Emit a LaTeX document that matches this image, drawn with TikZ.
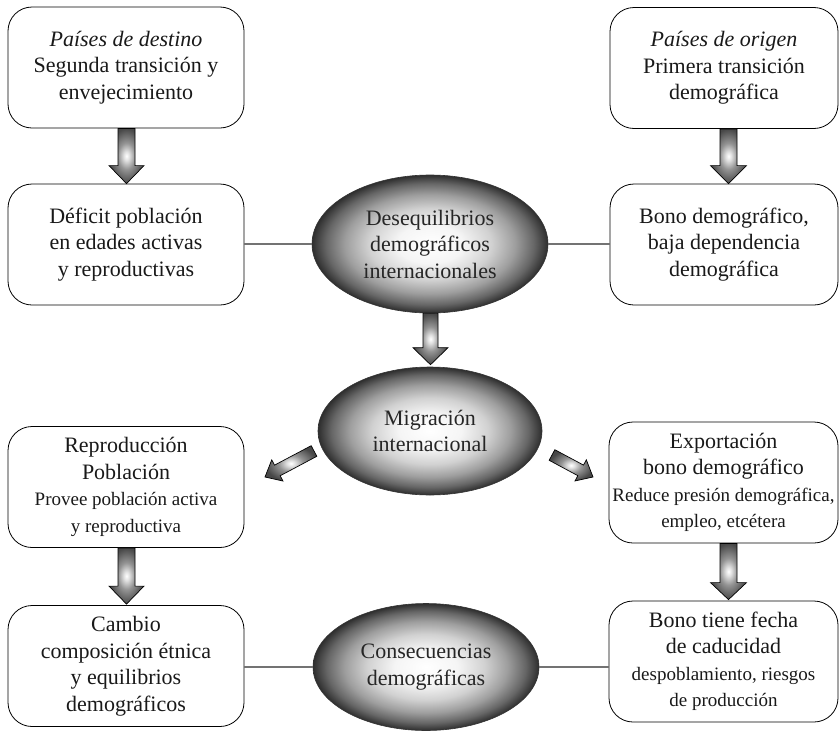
\documentclass[tikz,border=0pt]{standalone}
\usepackage{fontspec}
\setmainfont{Liberation Serif}
\usetikzlibrary{calc,shapes.geometric}
\pgfdeclareradialshading{ellsh}{\pgfpoint{0bp}{0bp}}{color(0bp)=(white); color(7bp)=(black!4); color(13bp)=(black!18); color(18bp)=(black!38); color(22bp)=(black!60); color(25bp)=(black!82); color(50bp)=(black!82)}
\pgfdeclareradialshading{arrsh}{\pgfpoint{0bp}{0bp}}{color(0bp)=(white); color(4bp)=(black!12); color(12bp)=(black!42); color(25bp)=(black!72); color(50bp)=(black!72)}
\newcommand{\mainf}{\fontsize{22}{26.5}\selectfont}
\newcommand{\smallf}{\fontsize{19}{26.5}\selectfont}
\newcommand{\fatarrow}[5]{%
  \path (#1) coordinate (fa0) (#2) coordinate (fa1) ($(fa1)!#5!(fa0)$) coordinate (fah);
  \shade[arrowst] ($(fa0)!#3!90:(fa1)$) -- ($(fah)!#3!90:(fa1)$) -- ($(fah)!#4!90:(fa1)$) -- (fa1)
     -- ($(fah)!#4!-90:(fa1)$) -- ($(fah)!#3!-90:(fa1)$) -- ($(fa0)!#3!-90:(fa1)$) -- cycle;}
\tikzset{
  box/.style={draw=black, line width=0.8pt, rounded corners=24pt, minimum width=236pt, minimum height=121pt,
    align=center, inner sep=2pt, font=\mainf, text=black!90},
  ell/.style={ellipse, draw=black!80, line width=0.6pt, shading=ellsh, inner sep=0pt, align=center,
    font=\mainf, text=black!85},
  link/.style={draw=black!55, line width=1.3pt},
  arrowst/.style={draw=black, line width=0.7pt, shading=arrsh}
}
\begin{document}
\begin{tikzpicture}[x=1pt,y=-1pt]
\useasboundingbox (0,0) rectangle (840,731);
% left column
\node[box] (b1) at (126,67.5) {\textit{Países de destino}\\Segunda transición y\\envejecimiento};
\node[box] (b2) at (126,244.5) {Déficit población\\en edades activas\\y reproductivas};
\node[box] (b3) at (126,487) {Reproducción\\Población\\\smallf Provee población activa\\\smallf y reproductiva};
\node[box] (b4) at (126,666) {Cambio\\composición étnica\\y equilibrios\\demográficos};
% right column
\node[box, minimum width=228pt] (r1) at (724,68) {\textit{Países de origen}\\Primera transición\\demográfica};
\node[box, minimum width=228pt] (r2) at (724,244.5) {Bono demográfico,\\baja dependencia\\demográfica};
\node[box, minimum width=229pt] (r3) at (723.5,482.5) {Exportación\\bono demográfico\\\smallf Reduce presión demográfica,\\\smallf empleo, etcétera};
\node[box, minimum width=229pt] (r4) at (723.5,661.5) {Bono tiene fecha\\de caducidad\\\smallf despoblamiento, riesgos\\\smallf de producción};
% ellipses
\node[ell, minimum width=236pt, minimum height=138pt] (e1) at (430,244) {Desequilibrios\\demográficos\\internacionales};
\node[ell, minimum width=224pt, minimum height=128pt] (e2) at (430,431) {Migración\\internacional};
\node[ell, minimum width=226pt, minimum height=127pt] (e3) at (426,667) {Consecuencias\\demográficas};
% links
\draw[link] (b2.east |- e1.west) -- (e1.west);
\draw[link] (e1.east) -- (e1.east -| r2.west);
\draw[link] (b4.east |- e3.west) -- (e3.west);
\draw[link] (e3.east) -- (e3.east -| r4.west);
% block arrows
\fatarrow{$(b1.south)+(0.5,0)$}{$(b2.north)+(0.5,0)$}{8.5pt}{17.5pt}{18pt}
\fatarrow{$(r1.south)+(4.5,0)$}{$(r2.north)+(4.5,0)$}{8.5pt}{18pt}{18pt}
\fatarrow{$(e1.south)+(0.5,0)$}{$(e2.north)+(0.5,-2)$}{7.5pt}{17.5pt}{17pt}
\fatarrow{$(b3.south)+(0.5,0)$}{$(b4.north)+(0.5,-1)$}{8.5pt}{17.5pt}{18pt}
\fatarrow{$(r3.south)+(5,0)$}{$(r4.north)+(5,-1)$}{8.5pt}{18pt}{17pt}
\coordinate (dl0) at (314,451);
\coordinate (dl1) at (265,477);
\coordinate (dr0) at (552,455);
\coordinate (dr1) at (593,477);
\fatarrow{dl0}{dl1}{6pt}{12pt}{14pt}
\fatarrow{dr0}{dr1}{6pt}{12pt}{14pt}
\end{tikzpicture}
\end{document}
